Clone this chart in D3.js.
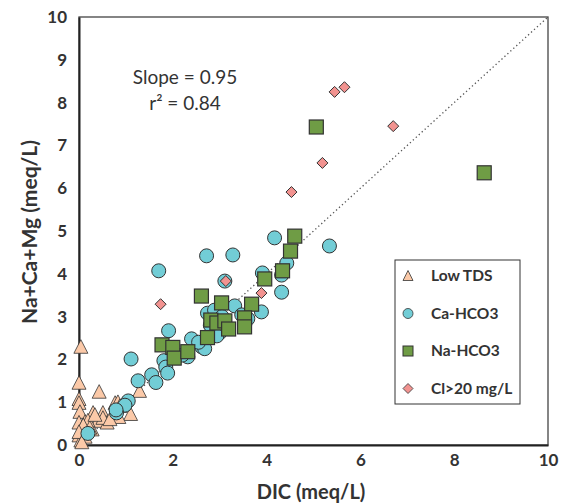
<!DOCTYPE html>
<html>
<head>
<meta charset="utf-8">
<script src="https://cdn.jsdelivr.net/npm/d3@7"></script>
<style>
  body { margin: 0; background: #fff; }
  text { font-family: Lato, "Open Sans", sans-serif; fill: #333; }
</style>
</head>
<body>
<svg id="chart" width="562" height="504"></svg>
<script>
// data (DIC, Na+Ca+Mg in meq/L)
const lowTDS = [
  [0.04, 2.29], [0.0, 1.45], [0.43, 1.24], [1.29, 1.26], [0.0, 1.07], [0.0, 0.98],
  [0.02, 0.77], [0.30, 0.75], [0.51, 0.75], [0.77, 0.98], [0.83, 1.0], [1.10, 0.72],
  [0.40, 0.56], [0.60, 0.52], [0.0, 0.52], [0.13, 0.54], [0.28, 0.36], [0.51, 0.63],
  [0.85, 0.65], [0.0, 0.22], [0.04, 0.10], [0.19, 0.57], [0.09, 0.46], [0.23, 0.40],
  [0.0, 0.30], [0.13, 0.19], [0.06, 0.06], [0.87, 0.91], [0.34, 0.70], [0.66, 0.60]
]
const caHCO3 = [
  [5.34, 4.65], [4.17, 4.84], [2.72, 4.42], [3.28, 4.44], [1.70, 4.07], [3.11, 3.83],
  [4.43, 4.25], [4.32, 3.97], [3.91, 4.02], [4.32, 3.57], [3.89, 3.11], [3.32, 3.25],
  [3.47, 3.04], [2.74, 3.08], [2.89, 3.15], [1.91, 2.67], [2.40, 2.48], [2.62, 2.29],
  [3.0, 2.62], [2.94, 2.55], [2.32, 2.06], [2.04, 2.06], [1.81, 1.97], [1.85, 1.82],
  [1.89, 1.68], [1.11, 2.01], [1.55, 1.64], [1.64, 1.46], [1.26, 1.50], [1.05, 1.03],
  [0.98, 0.93], [0.80, 0.75], [0.79, 0.82], [0.19, 0.27], [2.68, 2.25], [3.05, 3.0],
  [2.80, 2.80], [3.60, 2.95], [2.55, 2.40], [2.20, 2.10]
]
const naHCO3 = [
  [5.06, 7.43], [8.64, 6.36], [4.60, 4.88], [4.51, 4.53], [4.34, 4.07], [3.96, 3.88],
  [2.61, 3.48], [3.04, 3.32], [3.68, 3.29], [2.81, 2.92], [2.94, 2.85], [3.11, 2.90],
  [3.19, 2.71], [3.53, 2.97], [3.53, 2.76], [2.74, 2.51], [1.77, 2.34], [2.0, 2.28],
  [2.03, 2.03], [2.32, 2.18]
]
const clHigh = [
  [5.66, 8.36], [5.45, 8.25], [6.70, 7.45], [5.19, 6.59], [4.53, 5.91],
  [3.13, 3.83], [3.89, 3.55], [1.74, 3.29]
]
const xTicks = [0, 2, 4, 6, 8, 10]
const yTicks = [0, 1, 2, 3, 4, 5, 6, 7, 8, 9, 10]
const legendNames = ['Low TDS', 'Ca-HCO3', 'Na-HCO3', 'Cl>20 mg/L']

const svg = d3.select('#chart')

const xScale = d3.scaleLinear().domain([0, 10]).range([79, 548])
const yScale = d3.scaleLinear().domain([0, 10]).range([445, 17])

const stroke = '#333'
const colors = {
  tri: '#fbc9a8',
  circ: '#72cdd6',
  sq: '#6f9c45',
  dia: '#f29390'
}

// frame: top and right thin, left and bottom heavier
svg.append('rect')
  .attr('x', xScale(0))
  .attr('y', yScale(10))
  .attr('width', xScale(10) - xScale(0))
  .attr('height', yScale(0) - yScale(10))
  .attr('fill', 'none')
  .attr('stroke', '#444')
  .attr('stroke-width', 1.3)

// 1:1 line
svg.append('line')
  .attr('x1', xScale(0)).attr('y1', yScale(0))
  .attr('x2', xScale(10)).attr('y2', yScale(10))
  .attr('stroke', '#555')
  .attr('stroke-width', 1.3)
  .attr('stroke-dasharray', '1.3,2.7')

// axes
const xAxis = svg.append('g')
  .attr('transform', `translate(0, ${yScale(0)})`)
  .call(d3.axisBottom(xScale).tickValues(xTicks).tickSize(0).tickPadding(9))
xAxis.select('.domain').attr('stroke', '#222').attr('stroke-width', 2)
xAxis.selectAll('text').style('font-size', '17px').style('font-weight', 'bold')
  .attr('fill', '#333').style('font-family', 'Lato, sans-serif')

const yAxis = svg.append('g')
  .attr('transform', `translate(${xScale(0)}, 0)`)
  .call(d3.axisLeft(yScale).tickValues(yTicks).tickSize(0).tickPadding(12))
yAxis.select('.domain').attr('stroke', '#222').attr('stroke-width', 2)
yAxis.selectAll('text').style('font-size', '17px').style('font-weight', 'bold')
  .attr('fill', '#333').style('font-family', 'Lato, sans-serif')

// axis titles
svg.append('text')
  .attr('x', 311).attr('y', 499)
  .attr('text-anchor', 'middle')
  .style('font-size', '20px').style('font-weight', 'bold')
  .text('DIC (meq/L)')

svg.append('text')
  .attr('transform', 'translate(37, 232) rotate(-90)')
  .attr('text-anchor', 'middle')
  .style('font-size', '21px').style('font-weight', 'bold')
  .text('Na+Ca+Mg (meq/L)')

// annotation
svg.append('text')
  .attr('x', 185).attr('y', 84)
  .attr('text-anchor', 'middle')
  .style('font-size', '19px')
  .text('Slope = 0.95')

svg.append('text')
  .attr('x', 185).attr('y', 110)
  .attr('text-anchor', 'middle')
  .style('font-size', '19px')
  .text('r² = 0.84')

// markers
function triPath(s) {
  const h = s * 0.9
  return `M0,${-h / 2 - 1}L${s / 2},${h / 2}L${-s / 2},${h / 2}Z`
}
function diaPath(s) {
  return `M0,${-s / 2}L${s / 2},0L0,${s / 2}L${-s / 2},0Z`
}

svg.append('g').selectAll('path')
  .data(lowTDS)
  .join('path')
  .attr('d', triPath(14))
  .attr('transform', d => `translate(${xScale(d[0])}, ${yScale(d[1])})`)
  .attr('fill', colors.tri)
  .attr('stroke', stroke)
  .attr('stroke-width', 0.8)

svg.append('g').selectAll('circle')
  .data(caHCO3)
  .join('circle')
  .attr('cx', d => xScale(d[0]))
  .attr('cy', d => yScale(d[1]))
  .attr('r', 7)
  .attr('fill', colors.circ)
  .attr('stroke', stroke)
  .attr('stroke-width', 1)

svg.append('g').selectAll('rect')
  .data(naHCO3)
  .join('rect')
  .attr('x', d => xScale(d[0]) - 7)
  .attr('y', d => yScale(d[1]) - 7)
  .attr('width', 14)
  .attr('height', 14)
  .attr('fill', colors.sq)
  .attr('stroke', stroke)
  .attr('stroke-width', 1.2)

svg.append('g').selectAll('path')
  .data(clHigh)
  .join('path')
  .attr('d', diaPath(11))
  .attr('transform', d => `translate(${xScale(d[0])}, ${yScale(d[1])})`)
  .attr('fill', colors.dia)
  .attr('stroke', stroke)
  .attr('stroke-width', 1)

// legend
const legend = svg.append('g')
legend.append('rect')
  .attr('x', 395).attr('y', 260)
  .attr('width', 125).attr('height', 144)
  .attr('fill', '#fff')
  .attr('stroke', '#333')
  .attr('stroke-width', 1)

const rows = legend.selectAll('g.row')
  .data(legendNames)
  .join('g')
  .attr('class', 'row')
  .attr('transform', (d, i) => `translate(408, ${276 + i * 37.5})`)

rows.each(function (d, i) {
  const g = d3.select(this)
  if (i === 0) {
    g.append('path').attr('d', triPath(10)).attr('fill', colors.tri)
      .attr('stroke', stroke).attr('stroke-width', 0.8)
  } else if (i === 1) {
    g.append('circle').attr('r', 5).attr('fill', colors.circ)
      .attr('stroke', stroke).attr('stroke-width', 0.8)
  } else if (i === 2) {
    g.append('rect').attr('x', -5).attr('y', -5).attr('width', 10).attr('height', 10)
      .attr('fill', colors.sq).attr('stroke', stroke).attr('stroke-width', 1)
  } else {
    g.append('path').attr('d', diaPath(10)).attr('fill', colors.dia)
      .attr('stroke', stroke).attr('stroke-width', 0.8)
  }
})

rows.append('text')
  .attr('x', 23).attr('y', 5)
  .style('font-size', '15.5px').style('font-weight', 'bold')
  .text(d => d)
</script>
</body>
</html>
